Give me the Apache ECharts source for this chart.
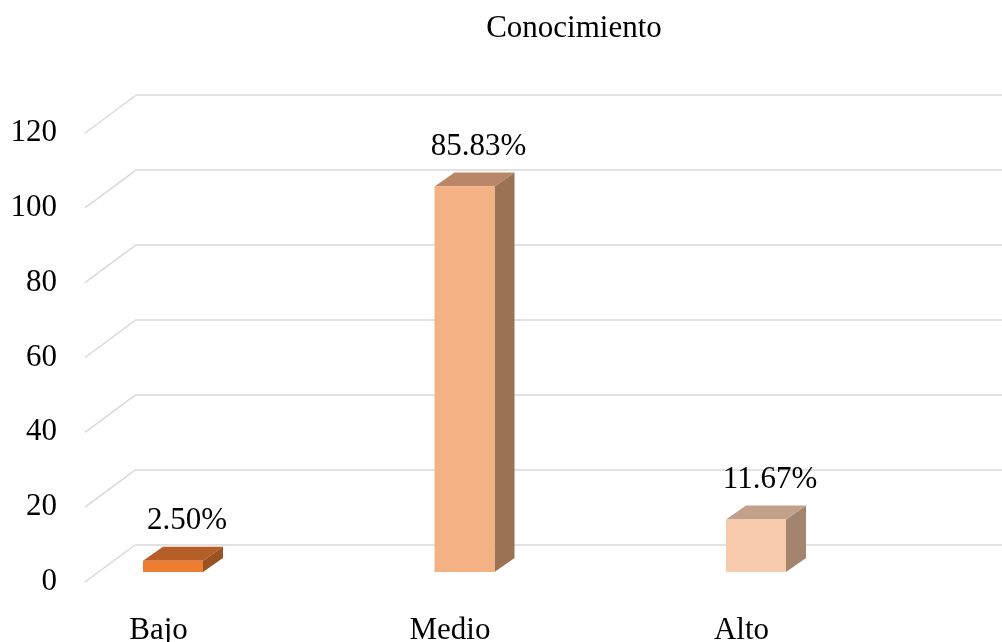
<!DOCTYPE html>
<html>
<head>
<meta charset="utf-8">
<script src="https://cdn.jsdelivr.net/npm/echarts@6/dist/echarts.min.js"></script>
<style>html,body{margin:0;padding:0;background:#fff}#c{width:1002px;height:642px}</style>
</head>
<body>
<div id="c"></div>
<script>
const categories = ['Bajo', 'Medio', 'Alto'];
const counts = [3, 103, 14];
const pctLabels = ['2.50%', '85.83%', '11.67%'];
const yTicks = [0, 20, 40, 60, 80, 100, 120];
const frontColors = ['#ED7D31', '#F4B183', '#F8CBAD'];
const topColors = ['#B65E27', '#B98667', '#C2A08A'];
const sideColors = ['#9B5222', '#9C7254', '#A3846F'];

const FONT = '"Liberation Serif", "Times New Roman", serif';
const GRID_COLOR = '#D9D9D9';
// depth offsets
const WALL_DX = 50, WALL_DY = -37;
const BAR_OX = 14.5, BAR_OY = -10;
const BAR_DX = 20, BAR_DY = -14;

const chart = echarts.init(document.getElementById('c'), null, {renderer: 'canvas'});
chart.setOption({
  animation: false,
  backgroundColor: '#ffffff',
  title: {
    text: 'Conocimiento',
    left: 569, top: 8, textAlign: 'center',
    textStyle: {fontFamily: FONT, fontSize: 31, fontWeight: 'normal', color: '#000'}
  },
  grid: [
    {left: 85, right: 800, top: 133, bottom: 60, outerBoundsMode: 'none', containLabel: false},
    {left: 135, right: 0, top: 95, bottom: 97, outerBoundsMode: 'none', containLabel: false},
    {left: 12.75, right: 114.75, top: 133, bottom: 60, outerBoundsMode: 'none', containLabel: false}
  ],
  xAxis: [
    {gridIndex: 0, type: 'value', min: 0, max: 1, show: false},
    {gridIndex: 1, type: 'value', min: 0, max: 1, show: false},
    {gridIndex: 2, type: 'category', data: categories,
     axisLine: {show: false}, axisTick: {show: false},
     axisLabel: {fontFamily: FONT, fontSize: 31, color: '#000', margin: 33}}
  ],
  yAxis: [
    {gridIndex: 0, type: 'value', min: 0, max: 120, interval: 20,
     axisLine: {show: false}, axisTick: {show: false}, splitLine: {show: false},
     axisLabel: {fontFamily: FONT, fontSize: 31, color: '#000', margin: 28}},
    {gridIndex: 1, type: 'value', min: 0, max: 120, interval: 20,
     axisLine: {show: false}, axisTick: {show: false}, axisLabel: {show: false},
     splitLine: {show: true, lineStyle: {color: GRID_COLOR, width: 1.5}}},
    {gridIndex: 2, type: 'value', min: 0, max: 120, interval: 20, show: false}
  ],
  series: [
    {
      type: 'custom', xAxisIndex: 0, yAxisIndex: 0,
      data: yTicks.map(v => [0, v]),
      renderItem: function (params, api) {
        const p = api.coord([0, api.value(1)]);
        return {
          type: 'line',
          shape: {x1: p[0], y1: p[1], x2: p[0] + WALL_DX, y2: p[1] + WALL_DY},
          style: {stroke: GRID_COLOR, lineWidth: 1.5}
        };
      }
    },
    {
      type: 'custom', xAxisIndex: 2, yAxisIndex: 2,
      data: counts.map((v, i) => [i, v]),
      renderItem: function (params, api) {
        const i = params.dataIndex;
        const base = api.coord([api.value(0), 0]);
        const top = api.coord([api.value(0), api.value(1)]);
        const bw = 60;
        const x0 = base[0] - bw / 2 + BAR_OX, x1 = x0 + bw;
        const yb = base[1] + BAR_OY, yt = top[1] + BAR_OY;
        return {
          type: 'group',
          children: [
            {type: 'polygon', shape: {points: [[x1, yt], [x1 + BAR_DX, yt + BAR_DY], [x1 + BAR_DX, yb + BAR_DY], [x1, yb]]},
             style: {fill: sideColors[i]}},
            {type: 'polygon', shape: {points: [[x0, yt], [x1, yt], [x1 + BAR_DX, yt + BAR_DY], [x0 + BAR_DX, yt + BAR_DY]]},
             style: {fill: topColors[i]}},
            {type: 'rect', shape: {x: x0, y: yt, width: bw, height: yb - yt},
             style: {fill: frontColors[i]}},
            {type: 'text', x: (x0 + x1) / 2 + BAR_DX / 2 + 4, y: yt + BAR_DY - 10,
             style: {text: pctLabels[i], font: '31px ' + FONT, fill: '#000',
                     textAlign: 'center', textVerticalAlign: 'bottom'}}
          ]
        };
      }
    }
  ]
});
</script>
</body>
</html>
